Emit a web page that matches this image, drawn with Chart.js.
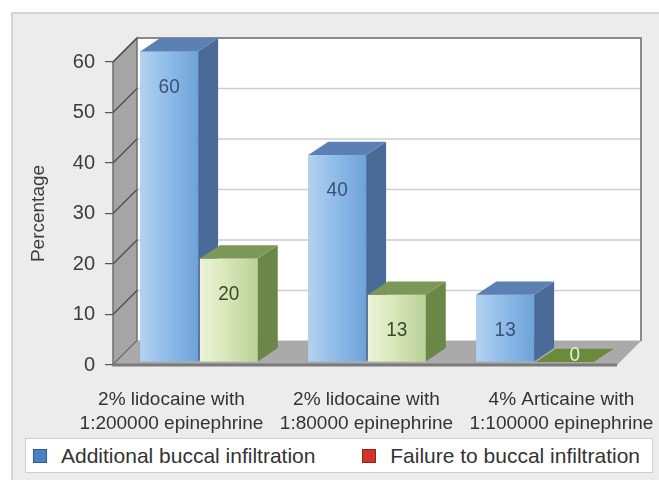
<!DOCTYPE html>
<html>
<head>
<meta charset="utf-8">
<script src="https://cdn.jsdelivr.net/npm/chart.js@4.4.1/dist/chart.umd.min.js"></script>
<style>
  html, body { margin: 0; padding: 0; background: #fff; }
  #wrap { position: relative; width: 659px; height: 489px; }
  #legend {
    position: absolute; left: 25px; top: 438px; width: 628px; height: 35px;
    background: #fff; border: 1px solid #cfcfcf;
    display: flex; justify-content: space-between; align-items: center;
    padding: 0 12px 0 7px; box-sizing: border-box;
    font-family: "Liberation Sans", Arial, sans-serif; font-size: 21px; color: #333;
  }
  #legend .item { display: flex; align-items: center; }
  #legend .swatch { width: 12px; height: 12px; border: 1px solid; margin-right: 14px; }
</style>
</head>
<body>
<div id="wrap">
  <canvas id="chart"></canvas>
  <div id="legend"></div>
</div>
<script>
const categories = [
  ["2% lidocaine with", "1:200000 epinephrine"],
  ["2% lidocaine with", "1:80000 epinephrine"],
  ["4% Articaine with", "1:100000 epinephrine"]
];
const additionalBuccal = [60, 40, 13];
const failureBuccal = [20, 13, 0];
const seriesNames = ["Additional buccal infiltration", "Failure to buccal infiltration"];
const legendColors = ["#4f80c6", "#d2352b"];
const legendBorders = ["#2f5a96", "#9a1f18"];

const FONT = '"Liberation Sans", Arial, sans-serif';
const DX = 24, DY = -24;      // depth of the walls / floor
const BDX = 20, BDY = -13;    // depth of the bars
const BAR_X = 2, BAR_BASE = 362, BAR_K = 1.025;

// colors per series: front gradient (light, mid, dark), top, side, label
const barStyle = [
  { front: ["#b4d2f1", "#8dbbe8", "#6ea2d8"], top: "#5b80b4", side: "#4a6b98", label: "#3b5276" },
  { front: ["#eef3d8", "#d6e5b6", "#b9d198"], top: "#7b9858", side: "#6b8748", label: "#3c4a2c", zero: "#6b8a3c", zeroLabel: "#e6eed6" }
];

const scene3d = {
  id: 'scene3d',
  beforeDraw(chart) {
    const {ctx, width} = chart;
    ctx.save();
    ctx.fillStyle = '#ececec';
    ctx.fillRect(12, 13, width - 12, 467);
    ctx.strokeStyle = '#d4d4d4';
    ctx.lineWidth = 2;
    ctx.beginPath();
    ctx.moveTo(12, 480); ctx.lineTo(12, 13); ctx.lineTo(width, 13);
    ctx.stroke();
    ctx.restore();
  },
  beforeDatasetsDraw(chart) {
    const {ctx, chartArea: a, scales: {y}} = chart;
    ctx.save();
    // back wall
    ctx.fillStyle = '#ffffff';
    ctx.fillRect(a.left + DX, a.top + DY, a.width, a.height);
    ctx.strokeStyle = '#cdcdcd';
    ctx.lineWidth = 1.5;
    y.ticks.forEach(t => {
      const py = y.getPixelForValue(t.value) + DY;
      ctx.beginPath(); ctx.moveTo(a.left + DX, py); ctx.lineTo(a.right + DX, py); ctx.stroke();
    });
    ctx.strokeStyle = '#8a8a8a';
    ctx.lineWidth = 2;
    ctx.beginPath();
    ctx.moveTo(a.left + DX, a.top + DY); ctx.lineTo(a.right + DX, a.top + DY);
    ctx.lineTo(a.right + DX, a.bottom + DY);
    ctx.stroke();
    // left wall
    ctx.fillStyle = '#a5a5a5';
    ctx.beginPath();
    ctx.moveTo(a.left, a.top); ctx.lineTo(a.left + DX, a.top + DY);
    ctx.lineTo(a.left + DX, a.bottom + DY); ctx.lineTo(a.left, a.bottom);
    ctx.closePath(); ctx.fill();
    ctx.strokeStyle = '#6f6f6f'; ctx.lineWidth = 1.5; ctx.stroke();
    ctx.strokeStyle = '#4d4d4d'; ctx.lineWidth = 1.2;
    y.ticks.forEach(t => {
      const py = y.getPixelForValue(t.value);
      ctx.beginPath(); ctx.moveTo(a.left, py); ctx.lineTo(a.left + DX, py + DY); ctx.stroke();
    });
    // floor
    ctx.fillStyle = '#aaaaaa';
    ctx.beginPath();
    ctx.moveTo(a.left, a.bottom); ctx.lineTo(a.left + DX, a.bottom + DY);
    ctx.lineTo(a.right + DX, a.bottom + DY); ctx.lineTo(a.right, a.bottom);
    ctx.closePath(); ctx.fill();
    ctx.strokeStyle = '#7a7a7a'; ctx.lineWidth = 3;
    ctx.beginPath(); ctx.moveTo(a.left, a.bottom); ctx.lineTo(a.right, a.bottom); ctx.stroke();
    ctx.restore();

    // bars sit a little behind the front plane
    ctx.save();
    ctx.translate(BAR_X, BAR_BASE);
    ctx.scale(1, BAR_K);
    ctx.translate(0, -a.bottom);
  },
  afterDatasetsDraw(chart) {
    const {ctx} = chart;
    const metas = [chart.getDatasetMeta(0), chart.getDatasetMeta(1)];
    ctx.font = '19px ' + FONT;
    ctx.textAlign = 'center';
    ctx.textBaseline = 'middle';
    categories.forEach((c, i) => {
      metas.forEach((meta, d) => {
        const st = barStyle[d];
        const {x, y, base, width} = meta.data[i].getProps(['x', 'y', 'base', 'width'], true);
        const l = x - width / 2, r = x + width / 2;
        const value = chart.data.datasets[d].data[i];
        if (base - y > 0.5) {
          const g = ctx.createLinearGradient(l, 0, r, 0);
          g.addColorStop(0, st.front[0]); g.addColorStop(0.5, st.front[1]); g.addColorStop(1, st.front[2]);
          ctx.fillStyle = g;
          ctx.fillRect(l, y, width, base - y);
          // side
          ctx.fillStyle = st.side;
          ctx.beginPath();
          ctx.moveTo(r, y); ctx.lineTo(r + BDX, y + BDY); ctx.lineTo(r + BDX, base + BDY); ctx.lineTo(r, base);
          ctx.closePath(); ctx.fill();
          // top
          ctx.fillStyle = st.top;
          ctx.beginPath();
          ctx.moveTo(l, y); ctx.lineTo(l + BDX, y + BDY); ctx.lineTo(r + BDX, y + BDY); ctx.lineTo(r, y);
          ctx.closePath(); ctx.fill();
          ctx.fillStyle = st.label;
          ctx.fillText(String(value), x, y + 35);
        } else {
          ctx.fillStyle = st.zero || st.top;
          ctx.beginPath();
          ctx.moveTo(l, base); ctx.lineTo(l + BDX, base + BDY); ctx.lineTo(r + BDX, base + BDY); ctx.lineTo(r, base);
          ctx.closePath(); ctx.fill();
          ctx.fillStyle = st.zeroLabel || st.label;
          ctx.fillText(String(value), x + BDX / 2, base + BDY / 2);
        }
      });
    });
    ctx.restore();
  }
};

const htmlLegend = {
  id: 'htmlLegend',
  afterUpdate(chart) {
    const box = document.getElementById('legend');
    box.innerHTML = '';
    chart.options.plugins.legend.labels.generateLabels(chart).forEach(item => {
      const it = document.createElement('div');
      it.className = 'item';
      const sw = document.createElement('span');
      sw.className = 'swatch';
      sw.style.background = item.fillStyle;
      sw.style.borderColor = item.strokeStyle;
      const tx = document.createElement('span');
      tx.textContent = item.text;
      it.append(sw, tx);
      box.append(it);
    });
  }
};

new Chart(document.getElementById('chart'), {
  type: 'bar',
  data: {
    labels: categories,
    datasets: [
      { label: seriesNames[0], data: additionalBuccal, backgroundColor: '#8dbbe8', clip: false },
      { label: seriesNames[1], data: failureBuccal, backgroundColor: '#d6e5b6', clip: false }
    ]
  },
  options: {
    responsive: true,
    maintainAspectRatio: false,
    animation: false,
    layout: { padding: { left: 12, top: 62, right: 42, bottom: 54 } },
    datasets: { bar: { categoryPercentage: 0.71, barPercentage: 0.97 } },
    scales: {
      x: { display: false },
      // label axis: the category names sit wider apart than the bars, as in the source
      xl: {
        type: 'linear',
        position: 'bottom',
        offset: false,
        bounds: 'data',
        min: -0.3,
        max: 2.285,
        afterBuildTicks: s => { s.ticks = categories.map((c, i) => ({ value: i })); },
        afterFit: s => { s.height = 70; s.paddingLeft = 0; s.paddingRight = 0; },
        grid: { display: false },
        border: { display: false },
        ticks: {
          padding: 14,
          color: '#333',
          font: { family: FONT, size: 19, lineHeight: 1.3 },
          maxRotation: 0,
          autoSkip: false,
          callback: v => categories[v]
        }
      },
      y: {
        min: 0,
        max: 60,
        afterFit: s => { s.width = 101; },
        ticks: { stepSize: 10, padding: 10, color: '#3c3c3c', font: { family: FONT, size: 20 } },
        grid: { drawOnChartArea: false, drawTicks: true, tickLength: 8, color: '#555', lineWidth: 1.2 },
        border: { display: false },
        title: {
          display: true,
          text: 'Percentage',
          color: '#3c3c3c',
          font: { family: FONT, size: 19 },
          padding: { top: 15, bottom: 0 }
        }
      }
    },
    plugins: {
      legend: {
        display: false,
        labels: {
          generateLabels: () => seriesNames.map((t, i) => ({
            text: t, fillStyle: legendColors[i], strokeStyle: legendBorders[i], datasetIndex: i
          }))
        }
      },
      tooltip: { enabled: false }
    }
  },
  plugins: [scene3d, htmlLegend]
});
</script>
</body>
</html>
